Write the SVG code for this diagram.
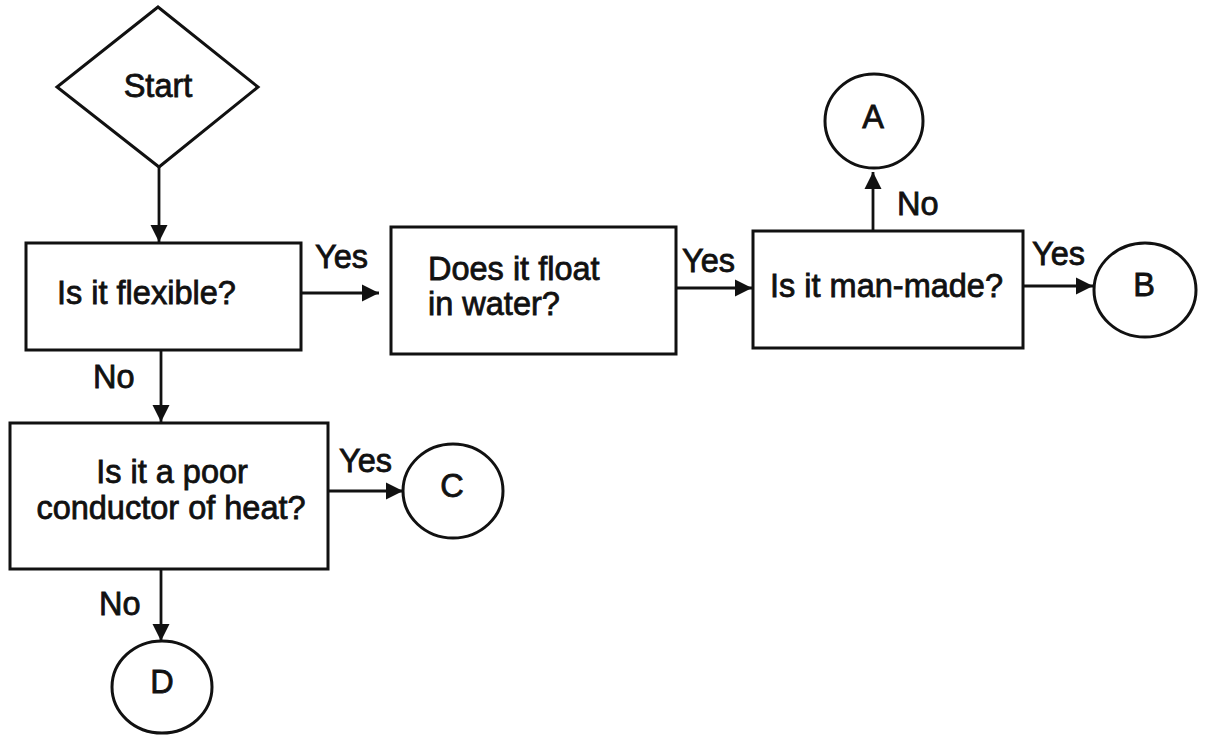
<svg xmlns="http://www.w3.org/2000/svg" width="1207" height="735" viewBox="0 0 1207 735">
<style>
.shape{fill:#fff;stroke:#111;stroke-width:3}
.t{font-family:"Liberation Sans",Arial,sans-serif;font-size:32.5px;fill:#111;stroke:#111;stroke-width:0.8}
.c{text-anchor:middle}
.line{fill:none;stroke:#111;stroke-width:2.8}
</style>
<defs>
<marker id="ah" markerUnits="userSpaceOnUse" markerWidth="18" markerHeight="18" refX="17" refY="8.5" orient="auto" viewBox="0 0 18 17">
<path d="M0,0 L17,8.5 L0,17 z" fill="#111"/>
</marker>
</defs>
<rect width="1207" height="735" fill="#fff"/>
<g id="connectors">
<line class="line" x1="159" y1="167" x2="159" y2="242" marker-end="url(#ah)"/>
<line class="line" x1="301" y1="293" x2="379" y2="293" marker-end="url(#ah)"/>
<line class="line" x1="676" y1="288" x2="752" y2="288" marker-end="url(#ah)"/>
<line class="line" x1="873" y1="231" x2="873" y2="172" marker-end="url(#ah)"/>
<line class="line" x1="1023" y1="286" x2="1093" y2="286" marker-end="url(#ah)"/>
<line class="line" x1="161" y1="350" x2="161" y2="422" marker-end="url(#ah)"/>
<line class="line" x1="328" y1="491" x2="403" y2="491" marker-end="url(#ah)"/>
<line class="line" x1="161" y1="569" x2="161" y2="641" marker-end="url(#ah)"/>
<text class="t" x="315" y="268">Yes</text>
<text class="t" x="682" y="272">Yes</text>
<text class="t" x="897" y="215">No</text>
<text class="t" x="1032" y="265">Yes</text>
<text class="t" x="93" y="388">No</text>
<text class="t" x="339" y="472">Yes</text>
<text class="t" x="99" y="615">No</text>
</g>
<g id="start">
<polygon class="shape" points="158,7 258,87 159,167 57,87"/>
<text class="t c" x="158" y="97">Start</text>
</g>
<g id="flexible">
<rect class="shape" x="26" y="243" width="275" height="107"/>
<text class="t" x="57" y="304">Is it flexible?</text>
</g>
<g id="float">
<rect class="shape" x="391" y="227" width="285" height="127"/>
<text class="t" x="428" y="280">Does it float</text>
<text class="t" x="428" y="315">in water?</text>
</g>
<g id="manmade">
<rect class="shape" x="753" y="231" width="270" height="117"/>
<text class="t" x="770" y="297">Is it man-made?</text>
</g>
<g id="conductor">
<rect class="shape" x="10" y="423" width="318" height="146"/>
<text class="t c" x="172" y="483">Is it a poor</text>
<text class="t c" x="171" y="519">conductor of heat?</text>
</g>
<g id="A">
<ellipse class="shape" cx="874" cy="121" rx="49" ry="47"/>
<text class="t c" x="873" y="128">A</text>
</g>
<g id="B">
<ellipse class="shape" cx="1145" cy="290" rx="51" ry="47"/>
<text class="t c" x="1144" y="296">B</text>
</g>
<g id="C">
<ellipse class="shape" cx="453" cy="491" rx="50" ry="47"/>
<text class="t c" x="452" y="497">C</text>
</g>
<g id="D">
<ellipse class="shape" cx="162" cy="687" rx="50" ry="46"/>
<text class="t c" x="162" y="693">D</text>
</g>
</svg>
